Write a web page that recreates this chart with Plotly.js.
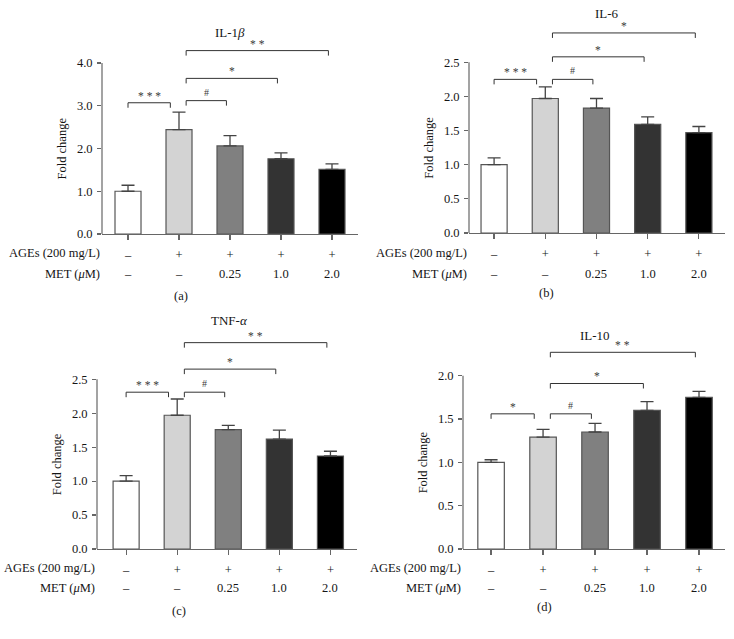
<!DOCTYPE html>
<html>
<head>
<meta charset="utf-8">
<script src="https://cdn.plot.ly/plotly-3.0.1.min.js"></script>
<style>
html,body{margin:0;padding:0;background:#fff;}
#chart{width:734px;height:639px;}
</style>
</head>
<body>
<div id="chart"></div>
<script>
// ---------- data ----------
const groups = [0, 1, 2, 3, 4];
const agesRow = ['–', '+', '+', '+', '+'];
const metRow = ['–', '–', '0.25', '1.0', '2.0'];

const il1bMean = [1.00, 2.44, 2.06, 1.76, 1.51];
const il1bSem  = [0.14, 0.41, 0.24, 0.14, 0.13];
const il6Mean  = [1.00, 1.97, 1.83, 1.59, 1.47];
const il6Sem   = [0.10, 0.17, 0.14, 0.11, 0.09];
const tnfMean  = [1.00, 1.97, 1.76, 1.62, 1.37];
const tnfSem   = [0.08, 0.24, 0.06, 0.13, 0.07];
const il10Mean = [1.00, 1.29, 1.35, 1.60, 1.75];
const il10Sem  = [0.03, 0.09, 0.10, 0.10, 0.07];

// brackets: [fromGroup, toGroup, level, label]
const il1bBrackets = [[0, 1, 3.07, '* * *'], [1, 2, 3.12, '#'], [1, 3, 3.64, '*'], [1, 4, 4.29, '* *']];
const il6Brackets  = [[0, 1, 2.25, '* * *'], [1, 2, 2.25, '#'], [1, 3, 2.58, '*'], [1, 4, 2.93, '*']];
const tnfBrackets  = [[0, 1, 2.31, '* * *'], [1, 2, 2.31, '#'], [1, 3, 2.65, '*'], [1, 4, 3.04, '* *']];
const il10Brackets = [[0, 1, 1.56, '*'], [1, 2, 1.56, '#'], [1, 3, 1.91, '*'], [1, 4, 2.27, '* *']];

const il1bTicks = [0, 1, 2, 3, 4];
const halfTicks = [0, 0.5, 1, 1.5, 2, 2.5];
const il10Ticks = [0, 0.5, 1, 1.5, 2];

const titles = ['IL-1<i>β</i>', 'IL-6', 'TNF-<i>α</i>', 'IL-10'];
const panelLetters = ['(a)', '(b)', '(c)', '(d)'];

// ---------- layout constants (pixels) ----------
const W = 734, H = 639;
const FONT = 'Liberation Serif, "DejaVu Serif", serif';
const TXT = '#151515';
const LINE = '#555';
const barColors = ['#ffffff', '#d3d3d3', '#808080', '#333333', '#000000'];

const panels = [
  {mean: il1bMean, sem: il1bSem, br: il1bBrackets, ticks: il1bTicks, fmt: '.1f',
   left: 102, right: 358, zero: 234, ppu: 42.75, top: 4.5, xr: [-0.51, 4.51],
   titleX: 2.0, titleY: 33, letterY: 296, row1Y: 253, row2Y: 274},
  {mean: il6Mean, sem: il6Sem, br: il6Brackets, ticks: halfTicks, fmt: '.1f',
   left: 469, right: 725, zero: 233, ppu: 68.28, top: 3.1, xr: [-0.49, 4.51],
   titleX: 2.2, titleY: 14, letterY: 293, row1Y: 253, row2Y: 273.5},
  {mean: tnfMean, sem: tnfSem, br: tnfBrackets, ticks: halfTicks, fmt: '.1f',
   left: 97, right: 357, zero: 549, ppu: 67.88, top: 3.2, xr: [-0.57, 4.52],
   titleX: 2.03, titleY: 320, letterY: 611, row1Y: 568, row2Y: 588},
  {mean: il10Mean, sem: il10Sem, br: il10Brackets, ticks: il10Ticks, fmt: '.1f',
   left: 463, right: 725, zero: 549, ppu: 86.65, top: 2.4, xr: [-0.54, 4.5],
   titleX: 2.0, titleY: 335, letterY: 607, row1Y: 568, row2Y: 588}
];

const data = [];
const shapes = [];
const annotations = [];
const layout = {
  width: W, height: H,
  margin: {l: 0, r: 0, t: 0, b: 0},
  paper_bgcolor: '#fff', plot_bgcolor: 'rgba(0,0,0,0)',
  showlegend: false,
  font: {family: FONT, size: 12.5, color: TXT},
  shapes: shapes, annotations: annotations
};

panels.forEach((p, i) => {
  const n = i + 1;
  const xa = n === 1 ? 'x' : 'x' + n;
  const ya = n === 1 ? 'y' : 'y' + n;
  const xKey = n === 1 ? 'xaxis' : 'xaxis' + n;
  const yKey = n === 1 ? 'yaxis' : 'yaxis' + n;
  const yb = 1 - p.zero / H;
  const yt = 1 - (p.zero - p.top * p.ppu) / H;
  const lastTick = p.ticks[p.ticks.length - 1];

  data.push({
    type: 'bar', x: groups, y: p.mean, xaxis: xa, yaxis: ya, width: 0.51,
    marker: {color: barColors, line: {color: LINE, width: 1.2}},
    error_y: {type: 'data', symmetric: false, array: p.sem, arrayminus: p.sem.map(() => 0),
              color: '#444', thickness: 1.3, width: 6.5},
    hoverinfo: 'none'
  });

  layout[xKey] = {
    domain: [p.left / W, p.right / W], anchor: ya, range: p.xr,
    tickmode: 'array', tickvals: groups, ticktext: agesRow,
    showline: true, linecolor: '#666', linewidth: 1.2,
    ticks: 'outside', ticklen: 5, tickcolor: '#666', tickwidth: 1.2,
    showgrid: false, zeroline: false, fixedrange: true,
    tickfont: {family: FONT, size: 12.5, color: TXT}, ticklabelstandoff: 4
  };
  layout[yKey] = {
    domain: [yb, yt], anchor: xa, range: [0, p.top],
    tickmode: 'array', tickvals: p.ticks, tickformat: p.fmt,
    showline: false, ticks: 'outside', ticklen: 4, tickcolor: '#666', tickwidth: 1.2,
    showgrid: false, zeroline: false, fixedrange: true,
    tickfont: {family: FONT, size: 12.5, color: TXT}, ticklabelstandoff: 2
  };

  // y axis line up to last tick
  shapes.push({type: 'line', xref: xa + ' domain', yref: ya, x0: 0, x1: 0,
               y0: 0, y1: lastTick, line: {color: '#666', width: 1.2}});

  // significance brackets
  const tip = 5 / p.ppu;
  p.br.forEach(b => {
    const x0 = b[0] + (b[0] > 0 ? 0.14 : 0);
    const x1 = b[1] - (b[1] === 1 ? 0.17 : 0.07);
    const lv = b[2];
    const ln = {color: '#333', width: 1};
    shapes.push({type: 'line', xref: xa, yref: ya, x0: x0, x1: x1, y0: lv, y1: lv, line: ln});
    shapes.push({type: 'line', xref: xa, yref: ya, x0: x0, x1: x0, y0: lv, y1: lv - tip, line: ln});
    shapes.push({type: 'line', xref: xa, yref: ya, x0: x1, x1: x1, y0: lv, y1: lv - tip, line: ln});
    annotations.push({xref: xa, yref: ya, x: (x0 + x1) / 2, y: lv, text: b[3],
                      showarrow: false, yanchor: 'bottom', yshift: b[3] === '#' ? 1 : -1,
                      font: {family: FONT, size: b[3] === '#' ? 10 : 11.5, color: '#3a3a3a'}});
  });

  // title
  annotations.push({xref: xa, yref: 'paper', x: p.titleX, y: 1 - p.titleY / H, text: titles[i],
                    showarrow: false, yanchor: 'middle', font: {family: FONT, size: 13, color: TXT}});
  // y title
  annotations.push({xref: 'paper', yref: ya, x: (p.left - 40) / W, y: lastTick / 2,
                    text: 'Fold change', textangle: -90, showarrow: false,
                    xanchor: 'center', yanchor: 'middle', font: {family: FONT, size: 12.5, color: TXT}});
  // row labels
  annotations.push({xref: 'paper', yref: 'paper', x: p.left / W, y: 1 - p.row1Y / H,
                    text: 'AGEs (200 mg/L)', showarrow: false, xanchor: 'right', yanchor: 'middle',
                    font: {family: FONT, size: 12.5, color: TXT}});
  annotations.push({xref: 'paper', yref: 'paper', x: p.left / W, y: 1 - p.row2Y / H,
                    text: 'MET (<i>μ</i>M)', showarrow: false, xanchor: 'right', yanchor: 'middle',
                    font: {family: FONT, size: 12.5, color: TXT}});
  // MET row values
  groups.forEach(g => {
    annotations.push({xref: xa, yref: 'paper', x: g, y: 1 - p.row2Y / H, text: metRow[g],
                      showarrow: false, yanchor: 'middle', font: {family: FONT, size: 12.5, color: TXT}});
  });
  // panel letter
  annotations.push({xref: xa, yref: 'paper', x: 1.03, y: 1 - p.letterY / H, text: panelLetters[i],
                    showarrow: false, yanchor: 'middle', font: {family: FONT, size: 12.5, color: TXT}});
});

Plotly.newPlot('chart', data, layout, {staticPlot: true, displayModeBar: false});
</script>
</body>
</html>
